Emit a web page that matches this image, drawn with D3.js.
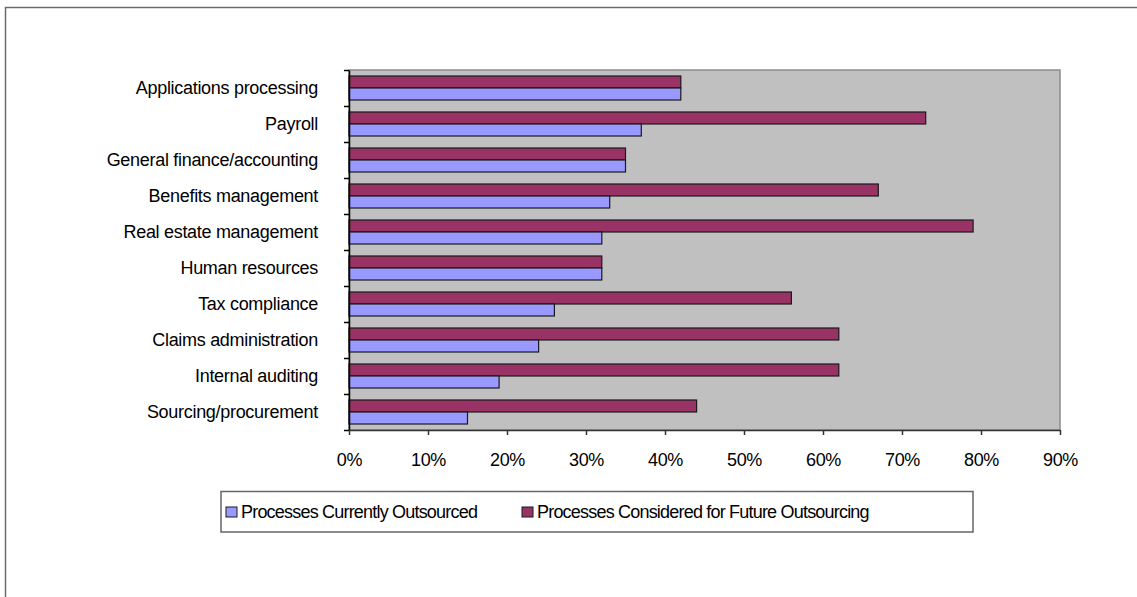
<!DOCTYPE html>
<html>
<head>
<meta charset="utf-8">
<script src="https://cdn.jsdelivr.net/npm/d3@7"></script>
<style>
  body { margin: 0; background: #fff; }
  svg { display: block; font-family: "Liberation Sans", Arial, sans-serif; }
</style>
</head>
<body>
<svg id="chart" width="1137" height="597"></svg>
<script>
// categories top to bottom
var categories = ["Applications processing", "Payroll", "General finance/accounting",
  "Benefits management", "Real estate management", "Human resources", "Tax compliance",
  "Claims administration", "Internal auditing", "Sourcing/procurement"];
var seriesNames = ["Processes Currently Outsourced", "Processes Considered for Future Outsourcing"];
var currentVals = [0.42, 0.37, 0.35, 0.33, 0.32, 0.32, 0.26, 0.24, 0.19, 0.15];
var futureVals  = [0.42, 0.73, 0.35, 0.67, 0.79, 0.32, 0.56, 0.62, 0.62, 0.44];
var xTicks = [0, 0.1, 0.2, 0.3, 0.4, 0.5, 0.6, 0.7, 0.8, 0.9];

var svg = d3.select('#chart');
var plot = {left: 349, right: 1060, top: 70, bottom: 430};

// outer chart frame (runs off right/bottom)
svg.append('rect')
  .attr('x', 5.5).attr('y', 7.5).attr('width', 1200).attr('height', 700)
  .attr('fill', 'none').attr('stroke', '#6b6b6b').attr('stroke-width', 1.5);

var x = d3.scaleLinear().domain([0, 0.9]).range([plot.left, plot.right]);
var y = d3.scaleBand().domain(categories).range([plot.top, plot.bottom]);
// future bar on top, current below
var inner = d3.scaleBand().domain(["future", "current"]).range([0, y.bandwidth()]).paddingOuter(0.5).paddingInner(0);

// plot background
svg.append('rect')
  .attr('x', plot.left).attr('y', plot.top)
  .attr('width', plot.right - plot.left).attr('height', plot.bottom - plot.top)
  .attr('fill', '#c0c0c0').attr('stroke', '#8c8c8c').attr('stroke-width', 1.5);

var rows = categories.map(function(c, i) {
  return {cat: c, current: currentVals[i], future: futureVals[i]};
});

var colors = {current: '#9999ff', future: '#993366'};

["future", "current"].forEach(function(key) {
  svg.append('g').selectAll('rect')
    .data(rows)
    .enter().append('rect')
    .attr('x', x(0))
    .attr('y', function(d) { return y(d.cat) + inner(key); })
    .attr('width', function(d) { return x(d[key]) - x(0); })
    .attr('height', inner.bandwidth())
    .attr('fill', colors[key])
    .attr('stroke', '#1a1a1a')
    .attr('stroke-width', 1.2);
});

// y axis: ticks on category boundaries
var yIdx = d3.scaleLinear().domain([0, categories.length]).range([plot.top, plot.bottom]);
var yAxis = svg.append('g')
  .attr('transform', 'translate(' + plot.left + ',0)')
  .call(d3.axisLeft(yIdx).ticks(categories.length).tickFormat('').tickSize(5).tickSizeOuter(0));
yAxis.select('.domain').attr('stroke', '#000').attr('stroke-width', 1.5);
yAxis.selectAll('.tick line').attr('stroke', '#000').attr('stroke-width', 1.5);

// category labels
svg.append('g').selectAll('text')
  .data(categories)
  .enter().append('text')
  .attr('x', 318)
  .attr('y', function(d) { return y(d) + y.bandwidth() / 2; })
  .attr('dy', '0.35em')
  .attr('text-anchor', 'end')
  .style('font-size', '18px')
  .style('letter-spacing', '-0.3px')
  .attr('fill', '#000')
  .text(function(d) { return d; });

// x axis
var xAxis = svg.append('g')
  .attr('transform', 'translate(0,' + plot.bottom + ')')
  .call(d3.axisBottom(x).tickValues(xTicks).tickFormat(d3.format('.0%')).tickSize(5).tickSizeOuter(0));
xAxis.select('.domain').attr('stroke', '#333').attr('stroke-width', 1.5);
xAxis.selectAll('.tick line').attr('stroke', '#333').attr('stroke-width', 1.5);
xAxis.selectAll('.tick text')
  .attr('y', 23)
  .style('font-size', '18px')
  .style('letter-spacing', '-0.3px')
  .attr('fill', '#000');

// legend
var legend = svg.append('g');
legend.append('rect')
  .attr('x', 221).attr('y', 491.5).attr('width', 752).attr('height', 40.5)
  .attr('fill', '#fff').attr('stroke', '#666').attr('stroke-width', 1.5);

var swatchX = [226, 522];
var labelX = [241, 537];
seriesNames.forEach(function(name, i) {
  var key = i === 0 ? 'current' : 'future';
  legend.append('rect')
    .attr('x', swatchX[i]).attr('y', 507).attr('width', 11).attr('height', 10)
    .attr('fill', colors[key]).attr('stroke', '#1a1a1a').attr('stroke-width', 1);
  legend.append('text')
    .attr('x', labelX[i]).attr('y', 512).attr('dy', '0.35em')
    .style('font-size', '18px')
    .style('letter-spacing', '-0.8px')
    .attr('fill', '#000')
    .text(name);
});
</script>
</body>
</html>
